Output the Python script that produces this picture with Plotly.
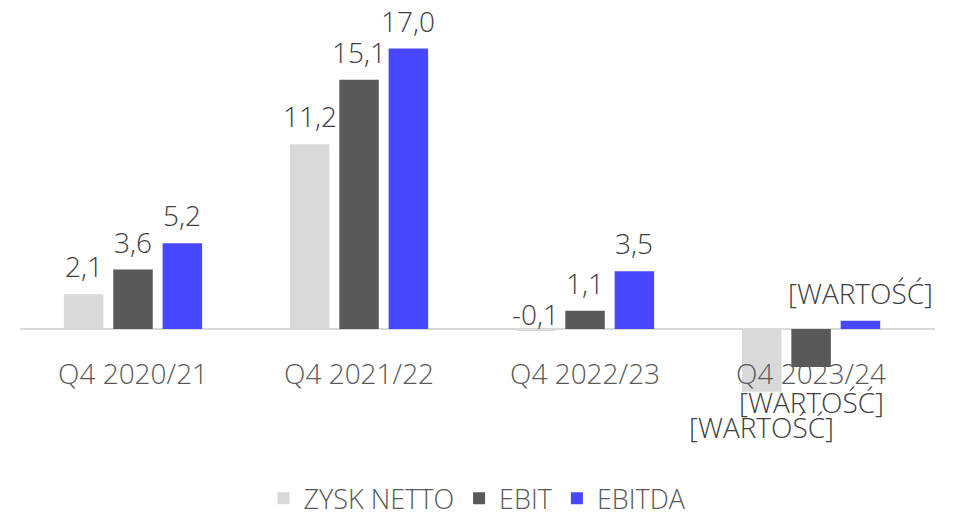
import plotly.graph_objects as go

categories = ["Q4 2020/21", "Q4 2021/22", "Q4 2022/23", "Q4 2023/24"]
series_names = ["ZYSK NETTO", "EBIT", "EBITDA"]
zysk_netto = [2.1, 11.2, -0.1, -3.8]
ebit = [3.6, 15.1, 1.1, -2.3]
ebitda = [5.2, 17.0, 3.5, 0.5]
placeholder_label = "[WARTOŚĆ]"
label_placeholder_category = "Q4 2023/24"

colors = ["#D9D9D9", "#595959", "#4747FF"]
series_values = [zysk_netto, ebit, ebitda]

FONT = "'Open Sans', Lato, sans-serif"
fig = go.Figure()
for name, vals, col in zip(series_names, series_values, colors):
    fig.add_trace(go.Bar(x=categories, y=vals, name=name, marker_color=col,
                         marker_line_width=0, hoverinfo="skip"))

def fmt(v):
    return f"{v:.1f}".replace(".", ",")

slot = 0.2186
annotations = []
for j, vals in enumerate(series_values):
    for i, v in enumerate(vals):
        txt = placeholder_label if categories[i] == label_placeholder_category else fmt(v)
        if v >= 0:
            shift = 28
        elif v > -1:
            shift = 17
        else:
            shift = -35
        annotations.append(dict(x=i + (j - 1) * slot, y=v, xref="x", yref="y", text=txt,
                                showarrow=False, yshift=shift, yanchor="middle",
                                font=dict(family=FONT, size=28, color="#404040", weight=300)))
for i, c in enumerate(categories):
    annotations.append(dict(x=i, y=0, xref="x", yref="y", text=c, showarrow=False,
                            yshift=-44, yanchor="middle",
                            font=dict(family=FONT, size=28, color="#595959", weight=300)))

fig.update_layout(
    width=970, height=513,
    margin=dict(l=20, r=35, t=32, b=118, autoexpand=False),
    paper_bgcolor="white", plot_bgcolor="white",
    barmode="group", bargap=0.345, bargroupgap=0.2,
    showlegend=True,
    legend=dict(orientation="h", x=0.5, xanchor="center", y=0.028, yanchor="middle",
                yref="container", font=dict(family=FONT, size=27, color="#595959", weight=300),
                itemsizing="constant", itemwidth=30),
    xaxis=dict(showticklabels=False, showgrid=False, zeroline=False, showline=False,
               ticks=""),
    yaxis=dict(range=[-4, 18], showgrid=False, showticklabels=False, zeroline=True,
               zerolinecolor="#D9D9D9", zerolinewidth=2, showline=False),
    annotations=annotations,
)
fig.write_html("out.html", config={"displayModeBar": False},
               post_script="document.body.style.margin='0';")
